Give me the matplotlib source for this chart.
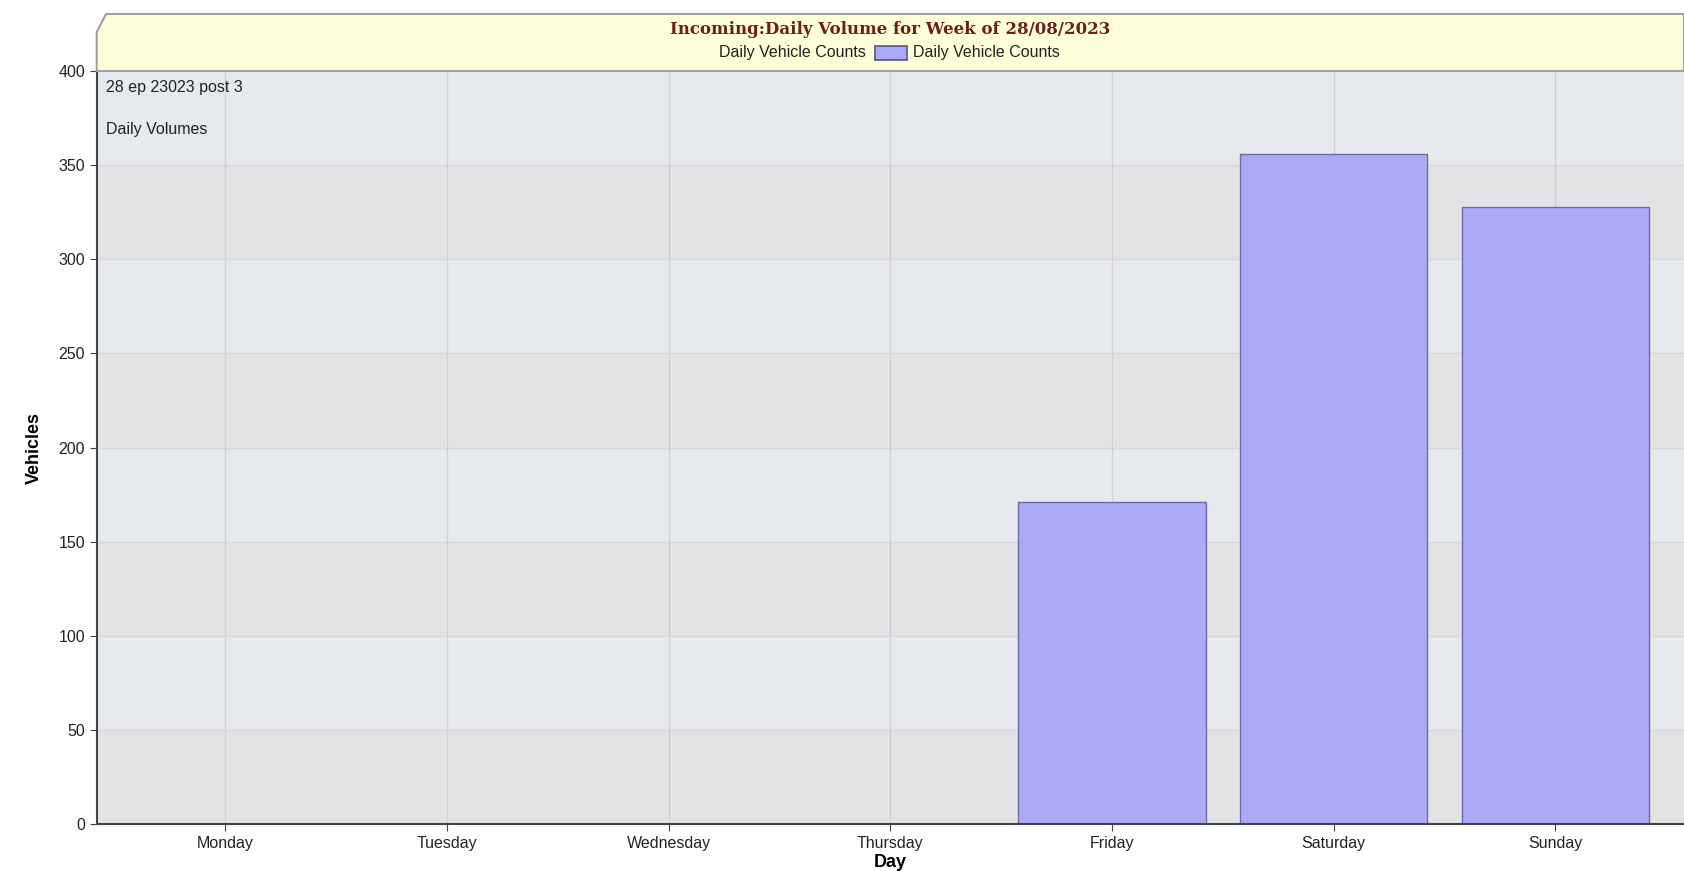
import matplotlib
matplotlib.use('Agg')
import matplotlib.pyplot as plt
from matplotlib.patches import Polygon, Rectangle
import numpy as np

plt.rcParams['font.family'] = ['Liberation Sans', 'DejaVu Sans']

days = ['Monday', 'Tuesday', 'Wednesday', 'Thursday', 'Friday', 'Saturday', 'Sunday']
counts = [0, 0, 0, 0, 171, 356, 328]
yticks = [0, 50, 100, 150, 200, 250, 300, 350, 400]

W, H = 1684, 871
fig = plt.figure(figsize=(W / 100, H / 100), dpi=100)
fig.patch.set_facecolor('white')

ax = fig.add_axes([96.7 / W, 1 - 824 / H, 1 - 96.7 / W, (824 - 71) / H])
ax.set_facecolor('#e6e9ed')

x = np.arange(len(days))
ax.set_xlim(-0.58, 6.58)
ax.set_ylim(0, 400)

# alternating bands
for i, y0 in enumerate(yticks[:-1]):
    if i % 2 == 0:
        ax.axhspan(y0, y0 + 50, color='#e3e3e5', zorder=0)
for y in yticks[1:-1]:
    ax.axhline(y, color='#d8d8da', lw=1, zorder=0.5)
for xi in x:
    ax.axvline(xi, color='#d0d0d4', lw=1, zorder=0.5)

ax.bar(x, counts, width=0.845, color='#aaaaf8', edgecolor='#6a6aa8', lw=1, zorder=2)

ax.set_xticks(x)
ax.set_xticklabels(days, fontsize=11.5, color='#222222')
ax.set_yticks(yticks)
ax.set_yticklabels([str(v) for v in yticks], fontsize=11.5, color='#222222')
ax.tick_params(length=5, color='#444444')
for s in ['top', 'right']:
    ax.spines[s].set_visible(False)
ax.spines['left'].set_color('#444444')
ax.spines['bottom'].set_color('#444444')
ax.spines['left'].set_linewidth(1.5)
ax.spines['bottom'].set_linewidth(1.5)

ax.set_ylabel('Vehicles', fontsize=13, fontweight='bold', labelpad=11)
ax.set_xlabel('Day', fontsize=13, fontweight='bold', labelpad=2)

ax.text(0.006, 0.988, '28 ep 23023 post 3', transform=ax.transAxes,
        fontsize=11.5, va='top', ha='left', color='#222222')
ax.text(0.006, 0.932, 'Daily Volumes', transform=ax.transAxes,
        fontsize=11.5, va='top', ha='left', color='#222222')

# header band with cut corner
hx0 = 96.7 / W
pts = [(hx0, 1 - 71 / H), (hx0, 1 - 32 / H), (106 / W, 1 - 14 / H),
       (1.0, 1 - 14 / H), (1.0, 1 - 71 / H)]
fig.patches.append(Polygon(pts, closed=True, transform=fig.transFigure,
                           facecolor='#fefed8', edgecolor='#a0a0a0', lw=1.5))

fig.text(890 / W, 1 - 29 / H, 'Incoming:Daily Volume for Week of 28/08/2023',
         ha='center', va='center', fontsize=12, fontweight='bold',
         color='#6b1f1f', family='DejaVu Serif')

leg_y = 1 - 53 / H
fig.text(866 / W, leg_y, 'Daily Vehicle Counts', ha='right', va='center',
         fontsize=11.5, color='#222222')
fig.patches.append(Rectangle((875 / W, leg_y - 7 / H), 32 / W, 14 / H,
                             transform=fig.transFigure, facecolor='#aaaaf8',
                             edgecolor='#555577', lw=1.2))
fig.text(913 / W, leg_y, 'Daily Vehicle Counts', ha='left', va='center',
         fontsize=11.5, color='#222222')

fig.savefig('out.png', dpi=100)
